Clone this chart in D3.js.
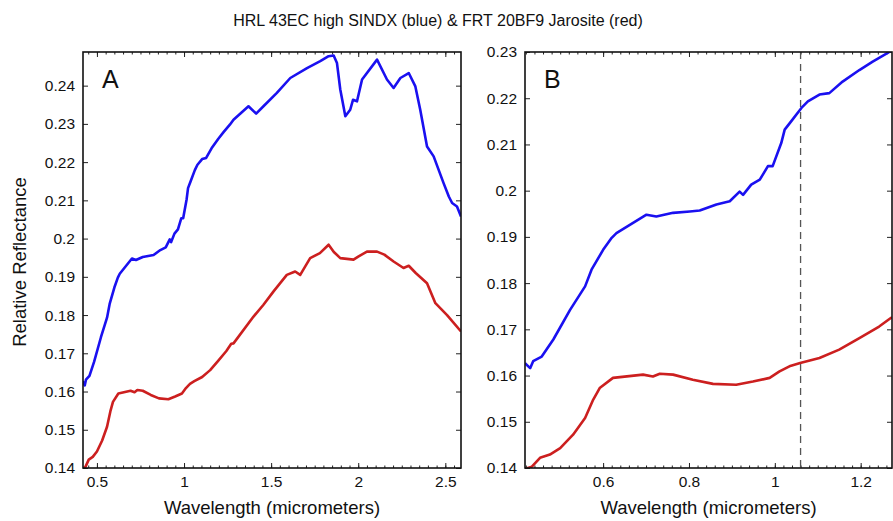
<!DOCTYPE html>
<html>
<head>
<meta charset="utf-8">
<script src="https://cdn.jsdelivr.net/npm/d3@7"></script>
<style>
  body { margin: 0; background: #fff; }
  svg { font-family: "Liberation Sans", Arial, sans-serif; }
</style>
</head>
<body>
<div id="chart"></div>
<script>
// Data
const titleText = 'HRL 43EC high SINDX (blue) & FRT 20BF9 Jarosite (red)'

const blueWave = [0.418, 0.430, 0.437, 0.457, 0.484, 0.523, 0.558, 0.573, 0.600, 0.620, 0.631, 0.701, 0.724,
  0.763, 0.802, 0.825, 0.864, 0.895, 0.918, 0.926, 0.945, 0.965, 0.984, 0.995, 1.015, 1.023, 1.038, 1.062,
  1.077, 1.104, 1.127, 1.158, 1.197, 1.228, 1.263, 1.284, 1.370, 1.414, 1.456, 1.533, 1.610, 1.706, 1.782,
  1.830, 1.859, 1.878, 1.897, 1.926, 1.954, 1.970, 1.993, 2.022, 2.108, 2.165, 2.203, 2.242, 2.290, 2.328,
  2.356, 2.395, 2.433, 2.490, 2.520, 2.539, 2.567, 2.590]
const blueRefl = [0.1627, 0.1616, 0.1631, 0.1641, 0.1678, 0.1742, 0.1793, 0.1829, 0.1872, 0.1898, 0.1908, 0.1948, 0.1944,
  0.1952, 0.1955, 0.1957, 0.1970, 0.1977, 0.1998, 0.1991, 0.2013, 0.2024, 0.2053, 0.2053, 0.2103, 0.2132, 0.2150, 0.2179,
  0.2193, 0.2208, 0.2211, 0.2236, 0.2261, 0.2279, 0.2298, 0.2311, 0.2346, 0.2327, 0.2346, 0.2381, 0.2420, 0.2446, 0.2464,
  0.2477, 0.2479, 0.2459, 0.2390, 0.2320, 0.2337, 0.2363, 0.2359, 0.2416, 0.2468, 0.2416, 0.2394, 0.2420, 0.2433, 0.2398,
  0.2337, 0.2241, 0.2215, 0.2145, 0.2110, 0.2093, 0.2084, 0.2058]

const redWave = [0.418, 0.434, 0.453, 0.476, 0.500, 0.530, 0.558, 0.577, 0.592, 0.623, 0.693, 0.716, 0.732, 0.763,
  0.809, 0.856, 0.910, 0.949, 0.988, 1.011, 1.034, 1.059, 1.104, 1.150, 1.197, 1.243, 1.271, 1.284, 1.399, 1.456,
  1.514, 1.590, 1.638, 1.667, 1.724, 1.780, 1.830, 1.860, 1.897, 1.973, 2.000, 2.050, 2.108, 2.150, 2.203, 2.260,
  2.290, 2.330, 2.395, 2.443, 2.510, 2.590]
const redRefl = [0.1398, 0.1403, 0.1422, 0.1429, 0.1443, 0.1472, 0.1508, 0.1548, 0.1573, 0.1595, 0.1602, 0.1598, 0.1604, 0.1602,
  0.1591, 0.1582, 0.1580, 0.1587, 0.1595, 0.1609, 0.1620, 0.1627, 0.1638, 0.1656, 0.1681, 0.1706, 0.1725, 0.1726, 0.1796, 0.1827,
  0.1862, 0.1905, 0.1914, 0.1905, 0.1949, 0.1962, 0.1984, 0.1965, 0.1949, 0.1945, 0.1953, 0.1966, 0.1966, 0.1958, 0.1940, 0.1923,
  0.1929, 0.1910, 0.1883, 0.1831, 0.1800, 0.1757]

const ticksA_x = [0.5, 1, 1.5, 2, 2.5]
const ticksA_y = [0.14, 0.15, 0.16, 0.17, 0.18, 0.19, 0.2, 0.21, 0.22, 0.23, 0.24]
const ticksB_x = [0.6, 0.8, 1, 1.2]
const ticksB_y = [0.14, 0.15, 0.16, 0.17, 0.18, 0.19, 0.2, 0.21, 0.22, 0.23]
const markerB = 1.06

// Our canvas
const width = 893,
  height = 521

const svg = d3.select('#chart')
  .append('svg')
  .attr('width', width)
  .attr('height', height)

const blue = blueWave.map((w, i) => ({ w: w, r: blueRefl[i] }))
const red = redWave.map((w, i) => ({ w: w, r: redRefl[i] }))

const fmt = d => String(+d.toFixed(2))

// one boxed panel, MATLAB style ticks on every side
let panel = (opt) => {
  const x = d3.scaleLinear().domain(opt.xDomain).range([opt.left, opt.right])
  const y = d3.scaleLinear().domain(opt.yDomain).range([opt.bottom, opt.top])

  const clipId = 'clip' + opt.name
  svg.append('clipPath').attr('id', clipId)
    .append('rect')
    .attr('x', opt.left).attr('y', opt.top)
    .attr('width', opt.right - opt.left).attr('height', opt.bottom - opt.top)

  const g = svg.append('g')

  // minor ticks
  const minor = d3.range(Math.ceil(opt.xDomain[0] / opt.minorStep), Math.floor(opt.xDomain[1] / opt.minorStep) + 1)
    .map(k => k * opt.minorStep)
  g.append('g').attr('transform', `translate(0,${opt.bottom})`)
    .call(d3.axisBottom(x).tickValues(minor).tickSize(-2.5).tickFormat(''))
  g.append('g').attr('transform', `translate(0,${opt.top})`)
    .call(d3.axisTop(x).tickValues(minor).tickSize(-2.5).tickFormat(''))

  // major ticks
  g.append('g').attr('class', 'xaxis').attr('transform', `translate(0,${opt.bottom})`)
    .call(d3.axisBottom(x).tickValues(opt.xTicks).tickSize(-5).tickPadding(8).tickFormat(fmt))
  g.append('g').attr('transform', `translate(0,${opt.top})`)
    .call(d3.axisTop(x).tickValues(opt.xTicks).tickSize(-5).tickFormat(''))
  g.append('g').attr('class', 'yaxis').attr('transform', `translate(${opt.left},0)`)
    .call(d3.axisLeft(y).tickValues(opt.yTicks).tickSize(-5).tickPadding(8).tickFormat(fmt))
  g.append('g').attr('transform', `translate(${opt.right},0)`)
    .call(d3.axisRight(y).tickValues(opt.yTicks).tickSize(-5).tickFormat(''))

  g.selectAll('.domain').remove()
  g.selectAll('.tick line').attr('stroke', '#222').attr('stroke-width', 1)
  g.selectAll('.tick text').attr('fill', '#111').style('font-size', '15.5px')

  if (opt.marker !== undefined) {
    svg.append('line')
      .attr('x1', x(opt.marker)).attr('x2', x(opt.marker))
      .attr('y1', opt.top).attr('y2', opt.bottom)
      .attr('stroke', '#555').attr('stroke-width', 1.3)
      .attr('stroke-dasharray', '7,5')
  }

  const line = d3.line().x(d => x(d.w)).y(d => y(d.r))
  const lines = svg.append('g').attr('clip-path', `url(#${clipId})`)
  lines.append('path').datum(red)
    .attr('d', line).attr('fill', 'none')
    .attr('stroke', '#cc1f1f').attr('stroke-width', 2.6).attr('stroke-linejoin', 'round')
  lines.append('path').datum(blue)
    .attr('d', line).attr('fill', 'none')
    .attr('stroke', '#1a10f0').attr('stroke-width', 2.6).attr('stroke-linejoin', 'round')

  // frame
  svg.append('rect')
    .attr('x', opt.left).attr('y', opt.top)
    .attr('width', opt.right - opt.left).attr('height', opt.bottom - opt.top)
    .attr('fill', 'none').attr('stroke', '#111').attr('stroke-width', 1.6)

  svg.append('text')
    .attr('x', opt.left + 19).attr('y', opt.top + 36)
    .style('font-size', '25px').attr('fill', '#111')
    .text(opt.name)

  svg.append('text')
    .attr('x', (opt.left + opt.right) / 2).attr('y', 514)
    .attr('text-anchor', 'middle')
    .style('font-size', '18.5px').attr('fill', '#111')
    .text('Wavelength (micrometers)')
}

panel({ name: 'A', left: 83, right: 461, top: 52, bottom: 468,
  xDomain: [0.42, 2.59], yDomain: [0.14, 0.2488], xTicks: ticksA_x, yTicks: ticksA_y, minorStep: 0.05 })
panel({ name: 'B', left: 525, right: 892, top: 52, bottom: 468,
  xDomain: [0.418, 1.273], yDomain: [0.14, 0.23], xTicks: ticksB_x, yTicks: ticksB_y, minorStep: 0.02, marker: markerB })

svg.append('text')
  .attr('x', 438).attr('y', 26)
  .attr('text-anchor', 'middle')
  .style('font-size', '16px').attr('fill', '#111')
  .text(titleText)

svg.append('text')
  .attr('transform', 'translate(26,262) rotate(-90)')
  .attr('text-anchor', 'middle')
  .style('font-size', '18.5px').attr('fill', '#111')
  .text('Relative Reflectance')
</script>
</body>
</html>
